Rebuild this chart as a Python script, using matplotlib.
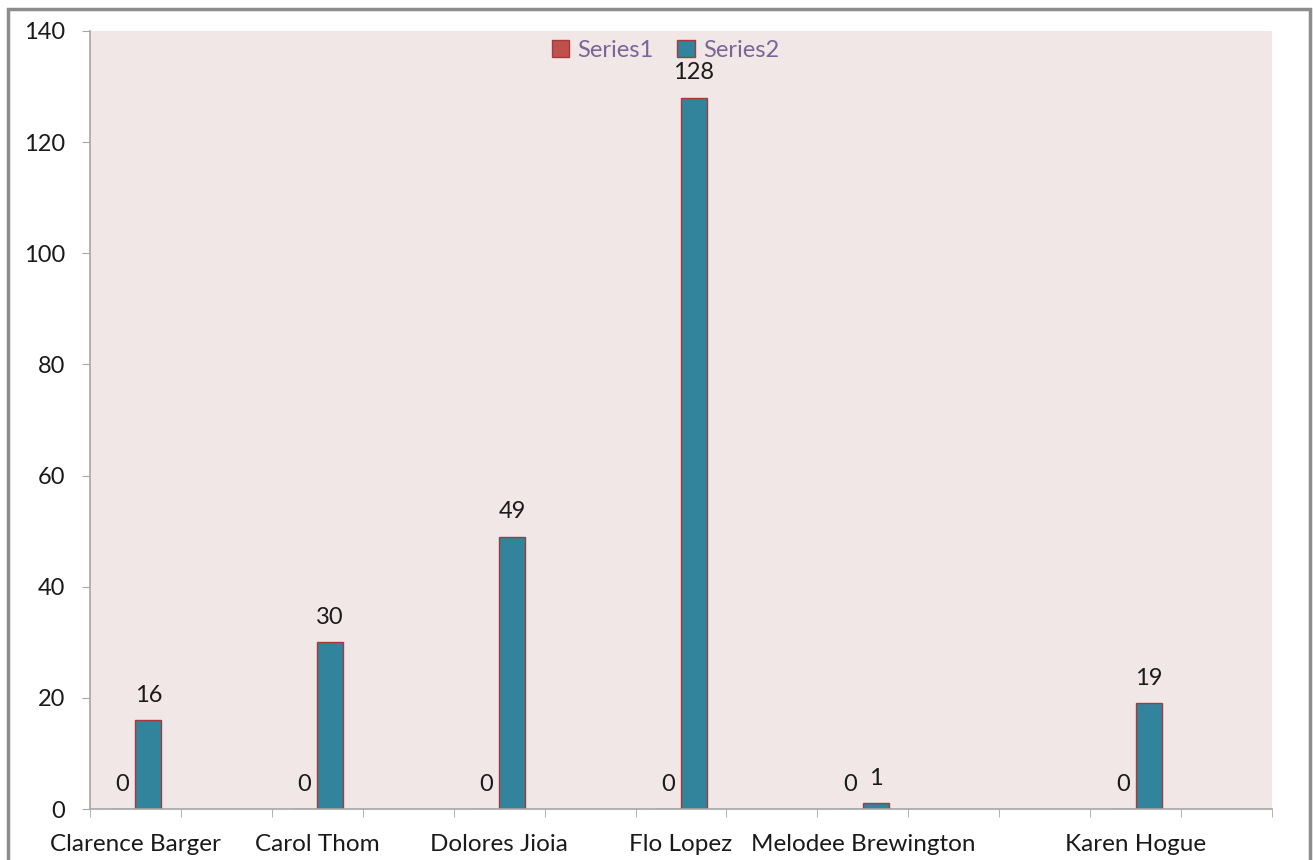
import numpy as np
import matplotlib.pyplot as plt
from matplotlib.patches import Rectangle

plt.rcParams['font.family'] = ['Lato', 'DejaVu Sans']

# blank rows in the sheet show up as empty categories
names = ['Clarence Barger', '', 'Carol Thom', '', 'Dolores Jioia', '', 'Flo Lopez',
         '', 'Melodee Brewington', '', '', 'Karen Hogue', '']
series1 = [0, np.nan, 0, np.nan, 0, np.nan, 0, np.nan, 0, np.nan, np.nan, 0, np.nan]
series2 = [16, np.nan, 30, np.nan, 49, np.nan, 128, np.nan, 1, np.nan, np.nan, 19, np.nan]

c1 = '#C0504D'
c2 = '#31849B'
edge = '#A33B3B'
grey = '#A6A6A6'
fs = 17

fig = plt.figure(figsize=(13.15, 8.6), dpi=100)
fig.patch.set_facecolor('white')
fig.patches.append(Rectangle((0.006, -0.01), 0.99, 1.0, transform=fig.transFigure,
                             fill=False, edgecolor='#8C8C8C', linewidth=2.5))
ax = fig.add_axes([0.0684, 0.0593, 0.8989, 0.9047])
ax.set_facecolor('#F2E7E7')

x = np.arange(len(names))
w = 0.285
ax.bar(x - w / 2, series1, w, color=c1, edgecolor=edge, linewidth=1, label='Series1')
ax.bar(x + w / 2, series2, w, color=c2, edgecolor=edge, linewidth=1, label='Series2')

for xi, v in zip(x, series1):
    if not np.isnan(v):
        ax.text(xi - w / 2, v + 2.6, f'{v:g}', ha='center', va='bottom', fontsize=fs, color='#1A1A1A')
for xi, v in zip(x, series2):
    if not np.isnan(v):
        ax.text(xi + w / 2, v + 2.6, f'{v:g}', ha='center', va='bottom', fontsize=fs, color='#1A1A1A')

ax.set_xlim(-0.5, len(names) - 0.5)
ax.set_ylim(0, 140)
ax.set_yticks(range(0, 141, 20))
ax.set_xticks(x)
ax.set_xticklabels(names)
ax.set_xticks(np.arange(-0.5, len(names)), minor=True)
ax.tick_params(axis='x', which='major', length=0, pad=18, labelsize=fs + 0.5, labelcolor='#1A1A1A')
ax.tick_params(axis='x', which='minor', length=6, color=grey, direction='out')
ax.tick_params(axis='y', length=6, color=grey, pad=12, labelsize=fs, labelcolor='#1A1A1A')

for s in ['top', 'right']:
    ax.spines[s].set_visible(False)
for s in ['left', 'bottom']:
    ax.spines[s].set_color(grey)
    ax.spines[s].set_linewidth(1.2)

ax.legend(loc='upper center', bbox_to_anchor=(0.487, 1.016), ncol=2, frameon=False,
          fontsize=17, handlelength=0.75, handleheight=0.75, handletextpad=0.35,
          columnspacing=1.0, labelcolor='#7B6596')

fig.savefig('out.png', dpi=100)
